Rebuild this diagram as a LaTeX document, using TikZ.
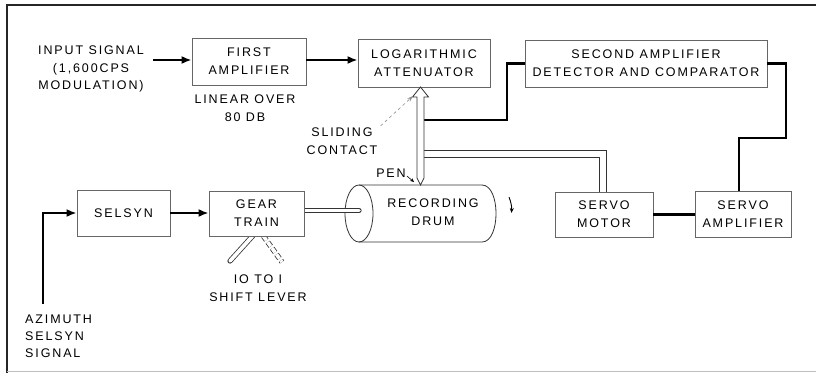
\documentclass[tikz,border=0pt]{standalone}
\usepackage{fontspec}
\newfontfamily\lettering{Liberation Sans}[LetterSpace=15]
\usetikzlibrary{arrows.meta}
\pgfdeclarelayer{background}
\pgfsetlayers{background,main}
\begin{document}
\begin{tikzpicture}[x=1pt,y=-1pt,
  txt/.style={font=\lettering\fontsize{12.5}{18}\selectfont, align=center, inner sep=0pt, text=black},
  box/.style={txt, draw=black!60, fill=white, line width=0.8pt},
  sig/.style={line width=2.4pt, black},
  tip/.style={-{Latex[length=10pt,width=8pt]}},
  mech/.style={double=white, double distance=3.6pt, line width=0.8pt, black!80},
  thin/.style={line width=0.8pt, black!80}]
\useasboundingbox (0,0) rectangle (816,373);
% frame
\draw[line width=1.1pt, black!85] (7,373) -- (7,5) -- (816,5);
\draw[line width=0.6pt, black!25] (7,371.5) -- (816,371.5);

% boxes
\node[box, minimum width=114pt, minimum height=47pt] (fa) at (249,61.5) {FIRST\\AMPLIFIER};
\node[box, minimum width=132pt, minimum height=48pt] (la) at (424,63) {LOGARITHMIC\\ATTENUATOR};
\node[box, minimum width=242pt, minimum height=47pt] (sa) at (646,63.5) {SECOND AMPLIFIER\\DETECTOR AND COMPARATOR};
\node[box, minimum width=93pt, minimum height=46pt] (sel) at (123.5,213) {SELSYN};
\node[box, minimum width=95pt, minimum height=45pt] (gt) at (256.5,213.5) {GEAR\\TRAIN};
\node[box, minimum width=98pt, minimum height=45pt] (smot) at (604,214.5) {SERVO\\MOTOR};
\node[box, minimum width=96pt, minimum height=46pt] (samp) at (743,214) {SERVO\\AMPLIFIER};

% free labels
\node[txt, font=\lettering\fontsize{12.5}{17.5}\selectfont] (inp) at (91,69) {INPUT SIGNAL\\(1,600CPS\\MODULATION)};
\node[txt] (lin) at (245,108.5) {LINEAR OVER\\80 DB};
\node[txt] (slide) at (342,141.5) {SLIDING\\CONTACT};
\node[txt] (pen) at (391,173) {PEN};
\node[txt] (shift) at (258,288) {IO TO I\\SHIFT LEVER};
\node[txt, font=\lettering\fontsize{12.5}{17}\selectfont, align=left, anchor=west] (azi) at (25,336) {AZIMUTH\\SELSYN\\SIGNAL};

% drum, shaft and shift lever (behind the boxes)
\begin{pgfonlayer}{background}
  \draw[thin] (359,213.5) ellipse [x radius=14, y radius=28.5];
  \draw[thin] (359,185) -- (482,185) .. controls (500.7,185) and (500.7,242) .. (482,242) -- (359,242);
  \draw[mech, line cap=round] (285,210.5) -- (359,210.5);
  \draw[mech, line cap=round] (258,230) -- (230,261);
  \draw[mech, dash pattern=on 5pt off 2.5pt] (259,230) -- (282,262);
\end{pgfonlayer}
\node[txt] (drum) at (433,212.5) {RECORDING\\DRUM};
\coordinate (pentip) at (420.5,185);

% signal arrows
\coordinate (inpS) at (153,60);
\draw[sig, tip] (inpS) -- (fa.west |- inpS);
\draw[sig, tip] (fa.east |- inpS) -- (la.west |- inpS);
\draw[sig, tip] (sel.east) -- (gt.west |- sel.east);
\coordinate (aziS) at (43,304);
\draw[line width=2pt, tip] (aziS) -- (aziS |- sel.west) -- (sel.west);

% feedback loop
\coordinate (rodA) at (424,120);
\draw[sig] (rodA) -- (507,120) -- (507,63.5) -- (sa.west);
\coordinate (c1) at (739,138);
\draw[sig] (sa.east) -- (786,63.5) -- (786,138) -- (c1) -- (c1 |- samp.north);
\draw[sig] (smot.east) -- (samp.west |- smot.east);

% hollow linkage from pen to servo motor
\draw[thin] (424,150) -- (606,150) -- (606,192);
\draw[thin] (424,157) -- (599,157) -- (599,192);

% pen rod with open arrowhead to attenuator
\draw[thin, fill=white, line join=miter] (417,178) -- (417,97) -- (412.5,97) -- (420.5,87) -- (428.5,97) -- (424,97) -- (424,178) -- (pentip) -- cycle;

% small annotations
\draw[dashed, black!45, line width=0.6pt, -{Stealth[length=6pt,width=4pt]}] (slide.north east) ++(3,-2) -- (413,96);
\draw[line width=0.6pt, -{Stealth[length=4pt,width=3.5pt]}] (pen.east) ++(1,3) -- (414,182);
\draw[line width=0.9pt, -{Stealth[length=5pt,width=4pt]}] (509,197) to[bend left=12] (511.5,213);
\end{tikzpicture}
\end{document}
